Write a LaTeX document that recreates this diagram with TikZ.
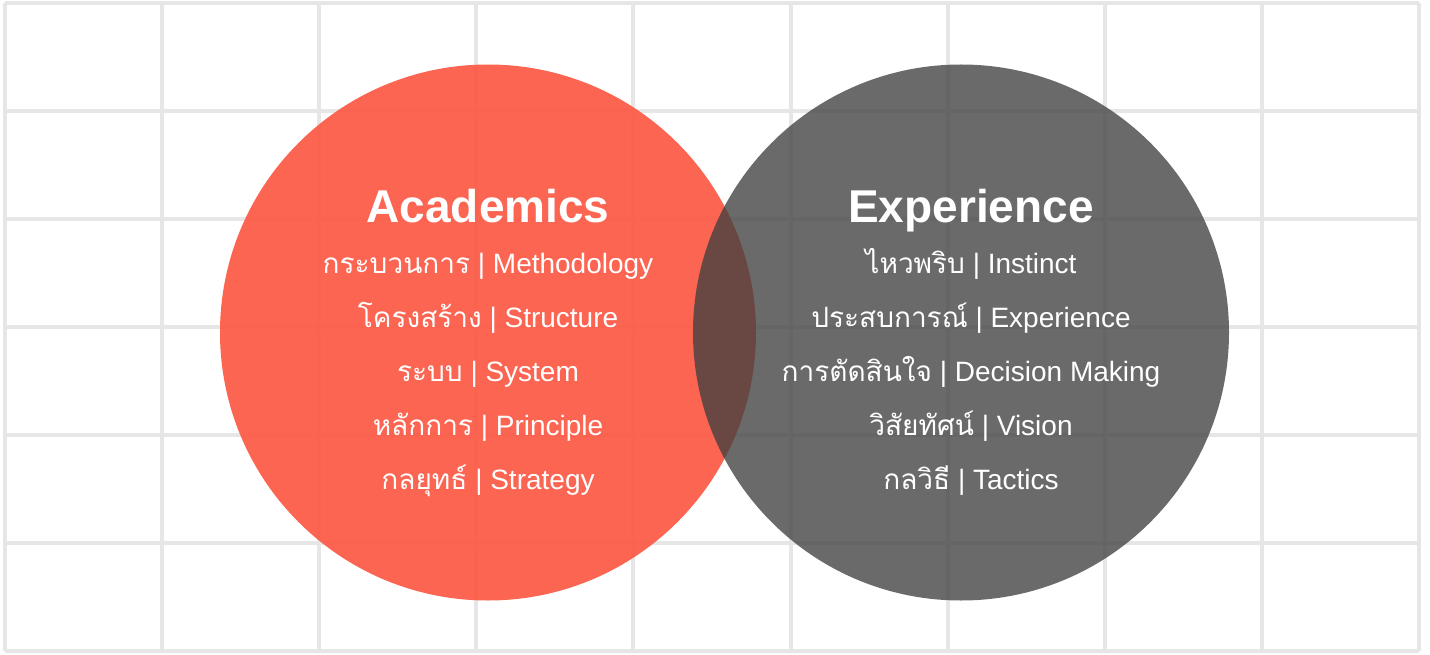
\documentclass[tikz,border=0pt]{standalone}
\usepackage{fontspec}
\setmainfont{Liberation Sans}
\newfontfamily\thaifont[Script=Thai]{Loma}
\definecolor{gridgray}{HTML}{E6E6E6}
\definecolor{redc}{HTML}{FB5844}
\definecolor{grayc}{HTML}{414141}
\newcommand{\thx}[1]{{\thaifont #1}}
\begin{document}
\begin{tikzpicture}[x=1pt,y=-1pt,
  gridline/.style={draw=gridgray,line width=4pt},
  title/.style={text=white,font=\fontsize{46}{50}\selectfont\bfseries,anchor=base,inner sep=0pt},
  item/.style={text=white,font=\fontsize{28}{32}\selectfont,anchor=base,inner sep=0pt}]
\useasboundingbox (0,0) rectangle (1430,655);
\fill[white] (0,0) rectangle (1430,655);
% grid
\foreach \i in {0,...,9}{
  \draw[gridline] ({5+157.11*\i},3) -- ({5+157.11*\i},651);
}
\foreach \j in {0,...,6}{
  \draw[gridline] (5,{3+108*\j}) -- (1419,{3+108*\j});
}
% circles
\fill[redc,fill opacity=0.92] (488,332.5) circle (268);
\fill[grayc,fill opacity=0.78] (961,332.5) circle (268);
% left texts
\node[title] (acad) at (488,223) {Academics};
\node[item] (a1) at (488,273) {\thx{กระบวนการ} | Methodology};
\node[item] (a2) at (488,327) {\thx{โครงสร้าง} | Structure};
\node[item] (a3) at (488,381) {\thx{ระบบ} | System};
\node[item] (a4) at (488,435) {\thx{หลักการ} | Principle};
\node[item] (a5) at (488,489) {\thx{กลยุทธ์} | Strategy};
% right texts
\node[title] (exp) at (971,223) {Experience};
\node[item] (e1) at (971,273) {\thx{ไหวพริบ} | Instinct};
\node[item] (e2) at (971,327) {\thx{ประสบการณ์} | Experience};
\node[item] (e3) at (971,381) {\thx{การตัดสินใจ} | Decision Making};
\node[item] (e4) at (971,435) {\thx{วิสัยทัศน์} | Vision};
\node[item] (e5) at (971,489) {\thx{กลวิธี} | Tactics};
\end{tikzpicture}
\end{document}
